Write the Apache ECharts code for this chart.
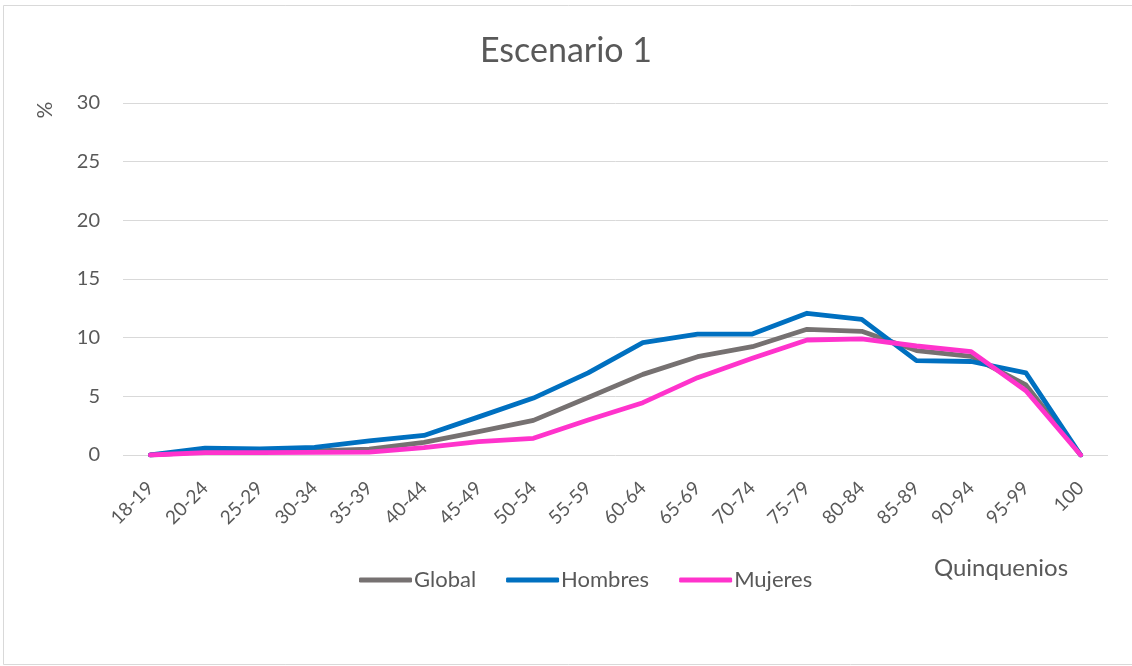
<!DOCTYPE html>
<html>
<head>
<meta charset="utf-8">
<script src="https://cdn.jsdelivr.net/npm/echarts@6/dist/echarts.min.js"></script>
<style>
  html, body { margin: 0; padding: 0; background: #fff; }
  #chart { width: 1132px; height: 666px; }
</style>
</head>
<body>
<div id="chart"></div>
<script>
// Age groups (five-year bands)
const categories = ['18-19', '20-24', '25-29', '30-34', '35-39', '40-44', '45-49', '50-54', '55-59',
  '60-64', '65-69', '70-74', '75-79', '80-84', '85-89', '90-94', '95-99', '100'];

// Percentage per age group
const globalValues = [0, 0.3, 0.3, 0.35, 0.5, 1.07, 2.0, 2.95, 4.9, 6.87, 8.38, 9.23, 10.71, 10.54, 8.9, 8.4, 5.97, 0];
const hombresValues = [0, 0.59, 0.51, 0.65, 1.21, 1.67, 3.25, 4.85, 7.0, 9.57, 10.31, 10.31, 12.08, 11.56, 8.05, 7.97, 7.0, 0];
const mujeresValues = [0, 0.2, 0.2, 0.22, 0.25, 0.62, 1.14, 1.42, 2.98, 4.46, 6.59, 8.24, 9.8, 9.89, 9.29, 8.81, 5.48, 0];

const yTicks = [0, 5, 10, 15, 20, 25, 30];

const textColor = '#595959';
const fontFamily = 'Lato, "Open Sans", sans-serif';

const chart = echarts.init(document.getElementById('chart'));

function lineSeries(name, data, color) {
  return {
    name: name,
    type: 'line',
    data: data,
    symbol: 'none',
    smooth: false,
    lineStyle: { width: 4.8, color: color, cap: 'round', join: 'round' },
    itemStyle: { color: color }
  };
}

chart.setOption({
  animation: false,
  backgroundColor: '#fff',
  textStyle: { fontFamily: fontFamily },
  title: {
    text: 'Escenario 1',
    left: 'center',
    top: 29,
    textStyle: { fontSize: 34, fontWeight: 'normal', color: textColor, fontFamily: fontFamily }
  },
  grid: { left: 123, right: 24, top: 103, bottom: 211, containLabel: false },
  legend: {
    data: ['Global', 'Hombres', 'Mujeres'],
    left: 354,
    top: 564,
    itemWidth: 53,
    itemHeight: 5,
    itemGap: 30,
    icon: 'roundRect',
    textStyle: { fontSize: 22, color: textColor, fontFamily: fontFamily, padding: [0, 0, 0, -3] }
  },
  xAxis: {
    type: 'category',
    data: categories,
    boundaryGap: true,
    axisLine: { show: false },
    axisTick: { show: false },
    axisLabel: {
      rotate: 45,
      interval: 0,
      fontSize: 19,
      color: textColor,
      margin: 30,
      fontFamily: fontFamily
    },
    splitLine: { show: false }
  },
  yAxis: {
    type: 'value',
    min: yTicks[0],
    max: yTicks[yTicks.length - 1],
    interval: 5,
    axisLine: { show: false },
    axisTick: { show: false },
    axisLabel: { fontSize: 20, color: textColor, margin: 23, fontFamily: fontFamily },
    splitLine: { lineStyle: { color: '#d9d9d9', width: 1 } }
  },
  graphic: [
    {
      type: 'rect',
      silent: true,
      shape: { x: 3.5, y: 5.5, width: 1140, height: 659 },
      style: { fill: 'none', stroke: '#d9d9d9', lineWidth: 1 }
    },
    {
      type: 'text',
      x: 45,
      y: 110,
      rotation: Math.PI / 2,
      style: { text: '%', fontSize: 21, fill: textColor, fontFamily: fontFamily, align: 'center', verticalAlign: 'middle' }
    },
    {
      type: 'text',
      x: 1001,
      y: 568,
      style: { text: 'Quinquenios', fontSize: 24, fill: textColor, fontFamily: fontFamily, align: 'center', verticalAlign: 'middle' }
    }
  ],
  series: [
    lineSeries('Global', globalValues, '#767171'),
    lineSeries('Hombres', hombresValues, '#0070C0'),
    lineSeries('Mujeres', mujeresValues, '#FF33CC')
  ]
});
</script>
</body>
</html>
